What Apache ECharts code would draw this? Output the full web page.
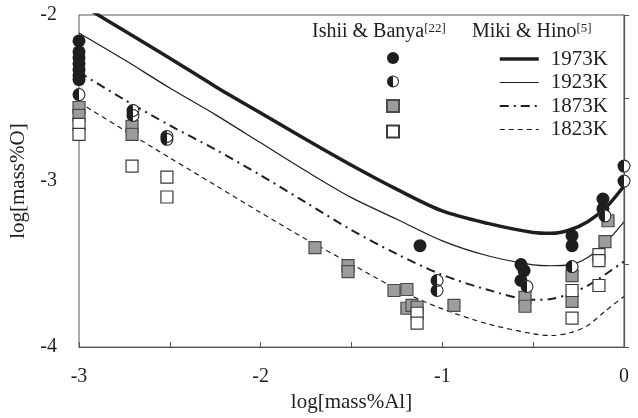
<!DOCTYPE html>
<html>
<head>
<meta charset="utf-8">
<script src="https://cdn.jsdelivr.net/npm/echarts@6/dist/echarts.min.js"></script>
<style>
  html, body { margin: 0; padding: 0; background: #fff; }
  #chart { width: 638px; height: 418px; }
</style>
</head>
<body>
<div id="chart"></div>
<script>
// Miki & Hino curves
const curveX = [-3, -2.75, -2.5, -2.25, -2, -1.75, -1.5, -1.25, -1, -0.75, -0.5, -0.4, -0.3, -0.2, -0.1, 0]
const y1973 = [-1.93, -2.095, -2.26, -2.43, -2.59, -2.75, -2.905, -3.05, -3.18, -3.255, -3.31, -3.315, -3.295, -3.245, -3.16, -3.03]
const y1923 = [-2.108, -2.27, -2.44, -2.6, -2.77, -2.94, -3.1, -3.23, -3.36, -3.45, -3.505, -3.51, -3.505, -3.46, -3.37, -3.246]
const y1873 = [-2.345, -2.51, -2.665, -2.81, -2.965, -3.13, -3.295, -3.44, -3.565, -3.655, -3.715, -3.71, -3.68, -3.63, -3.56, -3.485]
const y1823 = [-2.527, -2.694, -2.86, -3.025, -3.19, -3.35, -3.5, -3.65, -3.77, -3.86, -3.92, -3.93, -3.915, -3.87, -3.78, -3.695]

// Ishii & Banya points [log Al, log O]
const pts1973 = [[-3, -2.156], [-3, -2.222], [-3, -2.257], [-3, -2.293], [-3, -2.329], [-3, -2.365], [-3, -2.389],
  [-1.123, -3.389], [-0.567, -3.503], [-0.55, -3.539], [-0.567, -3.599],
  [-0.286, -3.329], [-0.286, -3.389], [-0.116, -3.108], [-0.116, -3.168]]
const pts1923 = [[-3, -2.479], [-2.703, -2.575], [-2.703, -2.605], [-2.516, -2.731], [-2.516, -2.749],
  [-1.029, -3.599], [-1.029, -3.659], [-0.534, -3.635], [-0.286, -3.515], [-0.105, -3.21], [0, -2.91], [0, -3.0]]
const pts1873 = [[-3, -2.557], [-3, -2.605], [-2.708, -2.671], [-2.708, -2.719], [-1.701, -3.401], [-1.519, -3.509],
  [-1.519, -3.545], [-1.266, -3.659], [-1.195, -3.653], [-1.195, -3.766], [-1.167, -3.749], [-1.139, -3.76],
  [-0.936, -3.749], [-0.545, -3.701], [-0.545, -3.754], [-0.286, -3.569], [-0.286, -3.725], [-0.088, -3.239], [-0.105, -3.365]]
const pts1823 = [[-3, -2.659], [-3, -2.719], [-2.708, -2.91], [-2.516, -2.976], [-2.516, -3.096], [-1.139, -3.796],
  [-1.139, -3.856], [-0.286, -3.659], [-0.286, -3.826], [-0.138, -3.443], [-0.138, -3.479], [-0.138, -3.629]]

const xTickLabels = ['-3', '-2', '-1', '0']
const yTickLabels = ['-4', '-3', '-2']

const FONT = '"Liberation Serif", "Times New Roman", serif'
const INK = '#1e1e1e'
const AXIS = '#555'

// ring + left half disk (left half black, right half open)
const halfPath = 'path://M10,0 A10,10 0 1,1 10,20 A10,10 0 1,1 10,0 Z ' +
  'M10,1.6 A8.4,8.4 0 1,0 10,18.4 A8.4,8.4 0 1,0 10,1.6 Z ' +
  'M10,20 A10,10 0 0,1 10,0 Z'

const pair = (ys) => curveX.map((x, i) => [x, ys[i]])

const lineSeries = (name, ys, width, type) => ({
  name,
  type: 'line',
  data: pair(ys),
  smooth: 0.3,
  symbol: 'none',
  clip: true,
  lineStyle: { color: INK, width, type },
  itemStyle: { color: INK },
  z: 2,
})

const chart = echarts.init(document.getElementById('chart'), null, { renderer: 'canvas' })

chart.setOption({
  animation: false,
  backgroundColor: '#fff',
  grid: {
    left: 79, right: 14, top: 15, bottom: 69,
    show: true, borderColor: AXIS, borderWidth: 1,
  },
  xAxis: {
    type: 'value',
    min: -3, max: 0, interval: 0.5,
    name: 'log[mass%Al]',
    nameLocation: 'middle',
    nameGap: 43,
    nameTextStyle: { fontFamily: FONT, fontSize: 21, color: INK },
    axisLine: { show: true, lineStyle: { color: AXIS, width: 1.2 } },
    axisTick: { show: true, inside: true, length: 5, lineStyle: { color: AXIS } },
    splitLine: { show: false },
    axisLabel: {
      margin: 20,
      fontFamily: FONT, fontSize: 20, color: INK,
      formatter: (v) => {
        const s = String(Math.round(v))
        return Number.isInteger(v) && xTickLabels.includes(s) ? s : ''
      },
    },
  },
  yAxis: {
    type: 'value',
    min: -4, max: -2, interval: 0.5,
    name: 'log[mass%O]',
    nameLocation: 'middle',
    nameGap: 41,
    nameTextStyle: { fontFamily: FONT, fontSize: 21, color: INK },
    axisLine: { show: true, lineStyle: { color: AXIS, width: 1.2 } },
    axisTick: { show: true, inside: true, length: 5, lineStyle: { color: AXIS } },
    splitLine: { show: false },
    axisLabel: {
      margin: 22,
      fontFamily: FONT, fontSize: 20, color: INK,
      formatter: (v) => {
        const s = String(Math.round(v))
        return Number.isInteger(v) && yTickLabels.includes(s) ? s : ''
      },
    },
  },
  legend: [
    {
      orient: 'vertical',
      left: 381, top: 47,
      itemWidth: 12, itemHeight: 12,
      itemGap: 11.5,
      selectedMode: false,
      formatter: () => '',
      textStyle: { fontSize: 11, lineHeight: 12 },
      data: [
        { name: 'IB 1973K' },
        { name: 'IB 1923K', icon: halfPath, itemStyle: { color: INK, borderWidth: 0 } },
        { name: 'IB 1873K' },
        { name: 'IB 1823K' },
      ],
    },
    {
      orient: 'vertical',
      left: 493, top: 43,
      itemWidth: 39, itemHeight: 14,
      itemGap: 1.5,
      selectedMode: false,
      itemStyle: { opacity: 0 },
      textStyle: { fontFamily: FONT, fontSize: 21, lineHeight: 22, color: INK, padding: [0, 0, 0, 7] },
      data: [
        { name: '1973K', lineStyle: { width: 3.5 } },
        { name: '1923K', lineStyle: { width: 1.2 } },
        { name: '1873K', lineStyle: { width: 2 } },
        { name: '1823K', lineStyle: { width: 1.2 } },
      ],
    },
  ],
  graphic: [
    {
      type: 'text', left: 312, top: 22,
      style: {
        text: '{a|Ishii & Banya}{s|[22]}',
        rich: {
          a: { fontFamily: FONT, fontSize: 20, fill: INK },
          s: { fontFamily: FONT, fontSize: 13, fill: INK, verticalAlign: 'top' },
        },
      },
    },
    {
      type: 'text', left: 472, top: 22,
      style: {
        text: '{a|Miki & Hino}{s|[5]}',
        rich: {
          a: { fontFamily: FONT, fontSize: 20, fill: INK },
          s: { fontFamily: FONT, fontSize: 13, fill: INK, verticalAlign: 'top' },
        },
      },
    },
  ],
  series: [
    lineSeries('1973K', y1973, 3.5, 'solid'),
    lineSeries('1923K', y1923, 1.2, 'solid'),
    lineSeries('1873K', y1873, 2, [9, 5, 2, 5]),
    lineSeries('1823K', y1823, 1.2, [5, 4]),
    {
      name: 'IB 1873K', type: 'scatter', data: pts1873,
      symbol: 'rect', symbolSize: 12,
      itemStyle: { color: '#9c9c9c', borderColor: '#4a4a4a', borderWidth: 1.2, opacity: 1 },
      z: 3,
    },
    {
      name: 'IB 1823K', type: 'scatter', data: pts1823,
      symbol: 'rect', symbolSize: 12,
      itemStyle: { color: '#fff', borderColor: '#3a3a3a', borderWidth: 1.2, opacity: 1 },
      z: 3,
    },
    {
      name: 'IB 1973K', type: 'scatter', data: pts1973,
      symbol: 'circle', symbolSize: 13,
      itemStyle: { color: INK, borderColor: INK, borderWidth: 0, opacity: 1 },
      z: 4,
    },
    {
      name: 'half-bg', type: 'scatter', data: pts1923,
      symbol: 'circle', symbolSize: 12.5,
      itemStyle: { color: '#fff', opacity: 1 },
      silent: true,
      z: 4,
    },
    {
      name: 'IB 1923K', type: 'scatter', data: pts1923,
      symbol: halfPath, symbolSize: 13,
      itemStyle: { color: INK, borderWidth: 0, opacity: 1 },
      z: 4,
    },
  ],
})
</script>
</body>
</html>
